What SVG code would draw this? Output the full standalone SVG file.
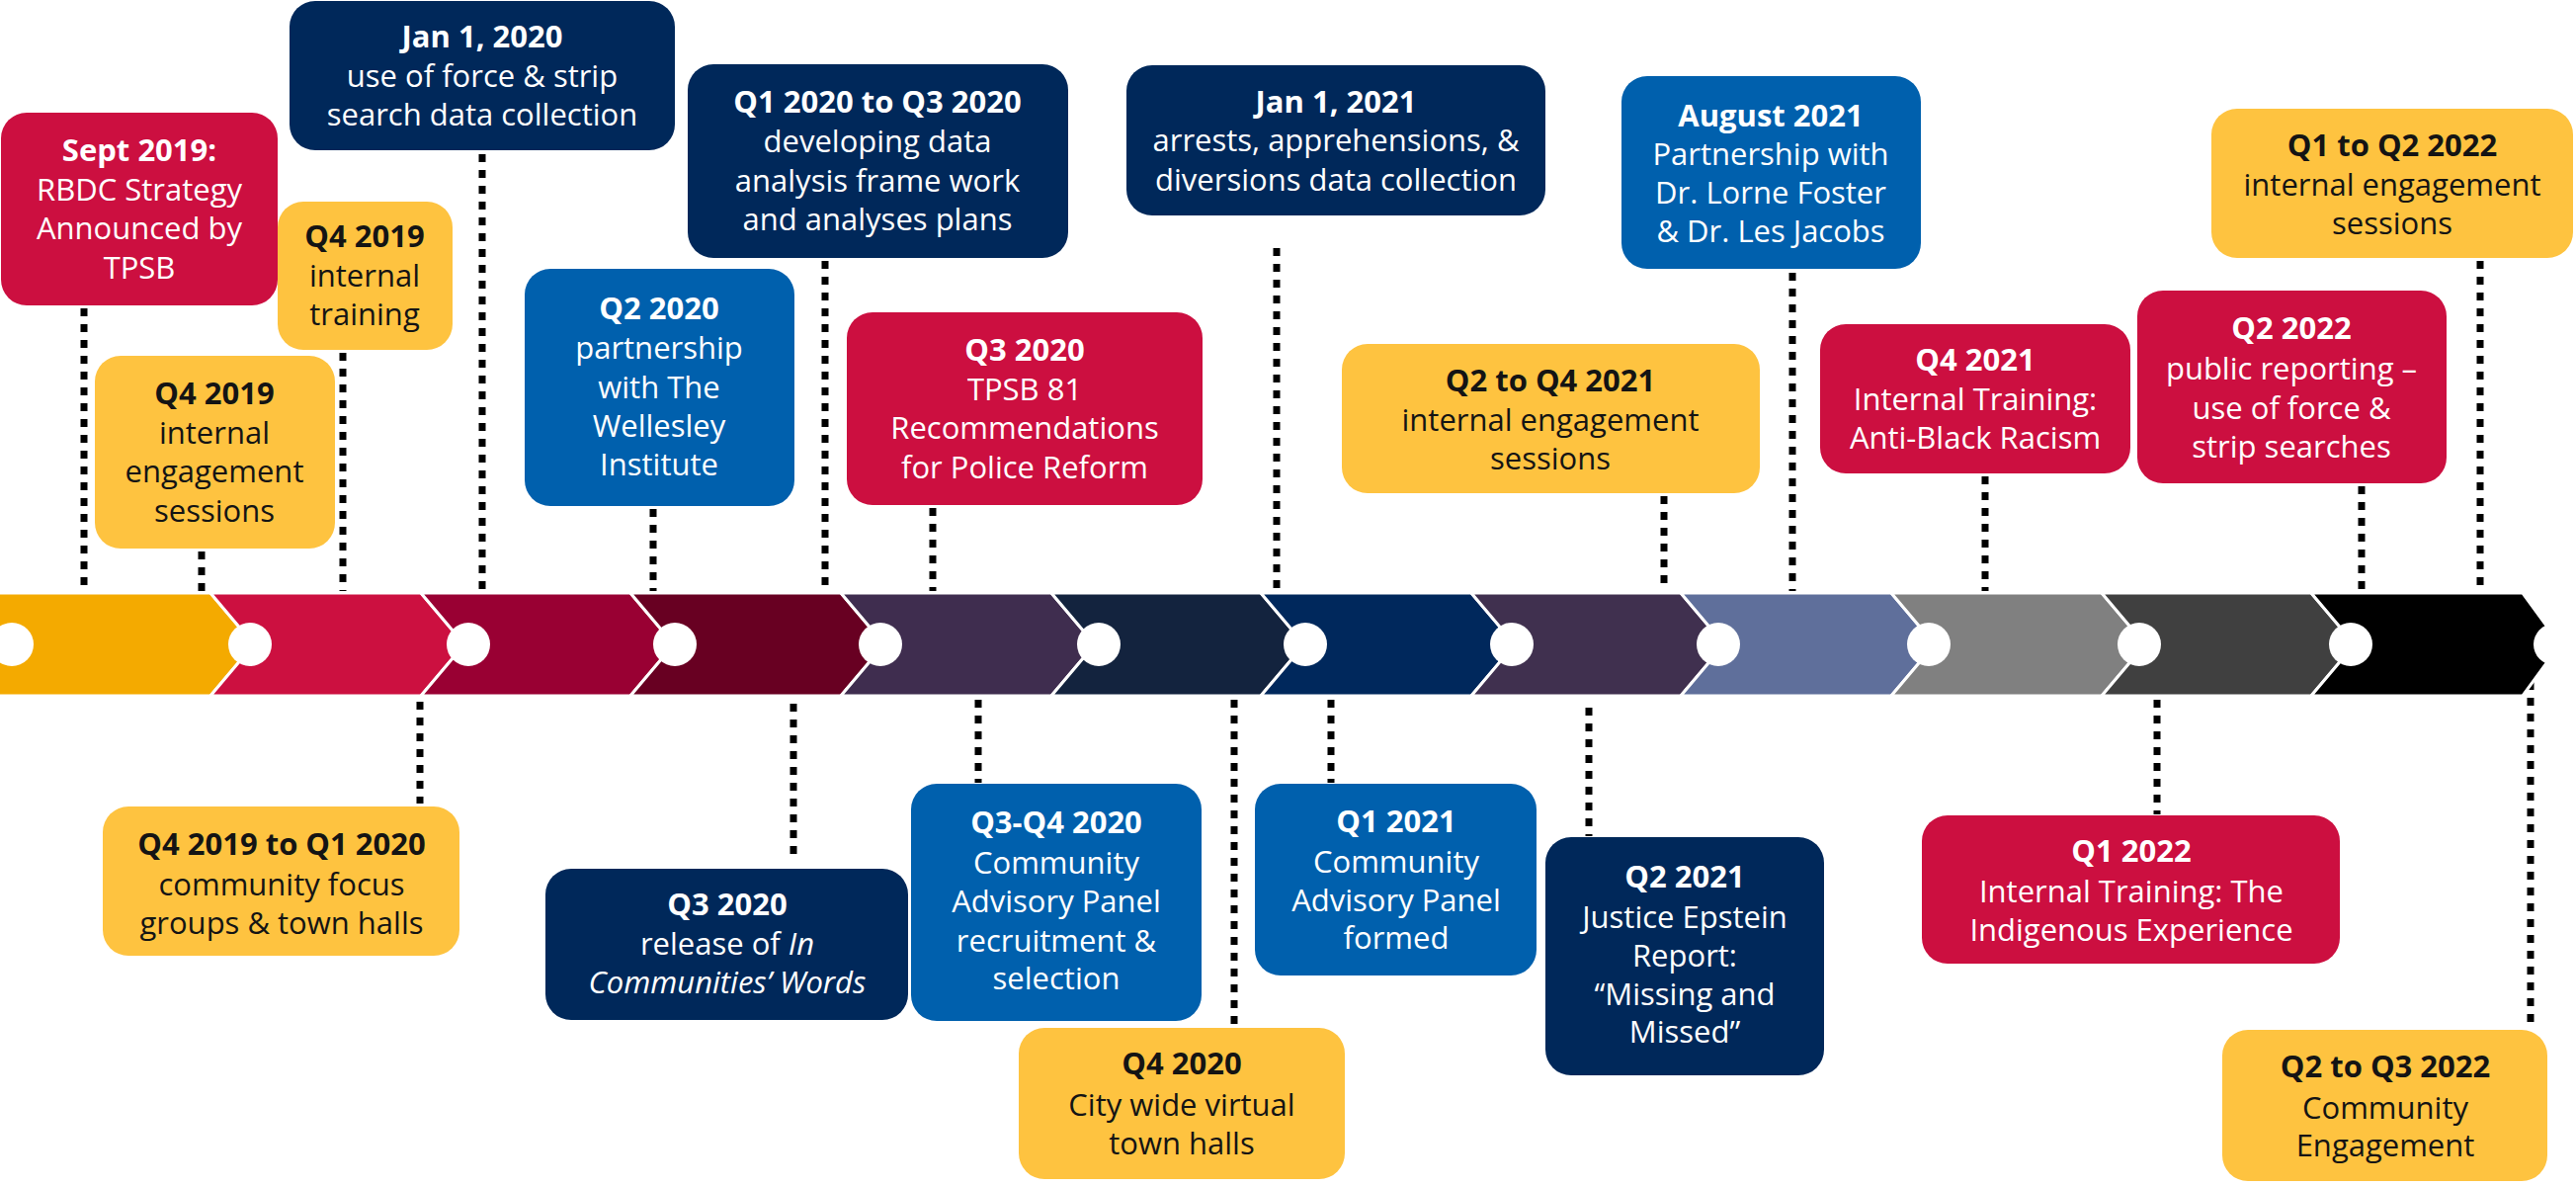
<svg xmlns="http://www.w3.org/2000/svg" width="2607" height="1201" viewBox="0 0 2607 1201">
<style>
.t{font-family:"Open Sans","Noto Sans",sans-serif;font-size:31px;text-anchor:middle}
.w{fill:#ffffff}.k{fill:#141414}.b{font-weight:700}.i{font-style:italic}
.red{fill:#CC0F40}.yel{fill:#FEC340}.nav{fill:#00285A}.blu{fill:#0060AD}
.conn line{stroke:#000;stroke-width:7;stroke-dasharray:8 8}
.seg{stroke:#fff;stroke-width:3}
.dot{fill:#fff}
</style>
<rect width="2607" height="1201" fill="#fff"/>
<g id="connectors" class="conn">
<line x1="85" y1="312" x2="85" y2="598"/>
<line x1="204" y1="558" x2="204" y2="598"/>
<line x1="347" y1="357" x2="347" y2="598"/>
<line x1="488" y1="156" x2="488" y2="598"/>
<line x1="661" y1="515" x2="661" y2="598"/>
<line x1="835" y1="264" x2="835" y2="598"/>
<line x1="944" y1="514" x2="944" y2="598"/>
<line x1="1292" y1="251" x2="1292" y2="598"/>
<line x1="1684" y1="502" x2="1684" y2="598"/>
<line x1="1814" y1="276" x2="1814" y2="598"/>
<line x1="2009" y1="482" x2="2009" y2="598"/>
<line x1="2390" y1="492" x2="2390" y2="598"/>
<line x1="2510" y1="264" x2="2510" y2="598"/>
<line x1="425" y1="710" x2="425" y2="813"/>
<line x1="803" y1="712" x2="803" y2="866"/>
<line x1="990" y1="708" x2="990" y2="792"/>
<line x1="1249" y1="708" x2="1249" y2="1038"/>
<line x1="1347" y1="708" x2="1347" y2="792"/>
<line x1="1608" y1="716" x2="1608" y2="846"/>
<line x1="2183" y1="708" x2="2183" y2="824"/>
<line x1="2561" y1="690" x2="2561" y2="1041"/>
</g>
<g id="timeline">
<polygon class="seg" fill="#F4AA00" points="-5,600 213,600 257,652 213,704 -5,704"/>
<polygon class="seg" fill="#CC1040" points="213,600 426,600 470,652 426,704 213,704 257,652"/>
<polygon class="seg" fill="#990033" points="426,600 638,600 682,652 638,704 426,704 470,652"/>
<polygon class="seg" fill="#680022" points="638,600 851,600 895,652 851,704 638,704 682,652"/>
<polygon class="seg" fill="#3F2D4F" points="851,600 1064,600 1108,652 1064,704 851,704 895,652"/>
<polygon class="seg" fill="#13233E" points="1064,600 1276,600 1320,652 1276,704 1064,704 1108,652"/>
<polygon class="seg" fill="#00285C" points="1276,600 1489,600 1533,652 1489,704 1276,704 1320,652"/>
<polygon class="seg" fill="#40304F" points="1489,600 1701,600 1745,652 1701,704 1489,704 1533,652"/>
<polygon class="seg" fill="#5F6F9B" points="1701,600 1914,600 1958,652 1914,704 1701,704 1745,652"/>
<polygon class="seg" fill="#808080" points="1914,600 2127,600 2171,652 2127,704 1914,704 1958,652"/>
<polygon class="seg" fill="#404040" points="2127,600 2339,600 2383,652 2339,704 2127,704 2171,652"/>
<polygon class="seg" fill="#000000" points="2339,600 2553,600 2591,652 2553,704 2339,704 2383,652"/>
<circle class="dot" cx="12" cy="652" r="22"/>
<circle class="dot" cx="253" cy="652" r="22"/>
<circle class="dot" cx="474" cy="652" r="22"/>
<circle class="dot" cx="683" cy="652" r="22"/>
<circle class="dot" cx="891" cy="652" r="22"/>
<circle class="dot" cx="1112" cy="652" r="22"/>
<circle class="dot" cx="1321" cy="652" r="22"/>
<circle class="dot" cx="1530" cy="652" r="22"/>
<circle class="dot" cx="1739" cy="652" r="22"/>
<circle class="dot" cx="1952" cy="652" r="22"/>
<circle class="dot" cx="2165" cy="652" r="22"/>
<circle class="dot" cx="2379" cy="652" r="22"/>
<circle class="dot" cx="2585" cy="652" r="21"/>
</g>
<g id="n-sept2019">
<rect class="red" x="1" y="114" width="280" height="195" rx="26"/>
<text class="t w"><tspan class="b" x="141" y="163">Sept 2019:</tspan><tspan x="141" y="203">RBDC Strategy</tspan><tspan x="141" y="242">Announced by</tspan><tspan x="141" y="282">TPSB</tspan></text>
</g>
<g id="n-jan2020">
<rect class="nav" x="293" y="1" width="390" height="151" rx="26"/>
<text class="t w"><tspan class="b" x="488" y="48">Jan 1, 2020</tspan><tspan x="488" y="88">use of force &amp; strip</tspan><tspan x="488" y="127">search data collection</tspan></text>
</g>
<g id="n-q4-2019-training">
<rect class="yel" x="281" y="204" width="177" height="150" rx="26"/>
<text class="t k"><tspan class="b" x="369" y="250">Q4 2019</tspan><tspan x="369" y="290">internal</tspan><tspan x="369" y="329">training</tspan></text>
</g>
<g id="n-q4-2019-engagement">
<rect class="yel" x="96" y="360" width="243" height="195" rx="26"/>
<text class="t k"><tspan class="b" x="217" y="409">Q4 2019</tspan><tspan x="217" y="449">internal</tspan><tspan x="217" y="488">engagement</tspan><tspan x="217" y="528">sessions</tspan></text>
</g>
<g id="n-q2-2020">
<rect class="blu" x="531" y="272" width="273" height="240" rx="26"/>
<text class="t w"><tspan class="b" x="667" y="323">Q2 2020</tspan><tspan x="667" y="363">partnership</tspan><tspan x="667" y="403">with The</tspan><tspan x="667" y="442">Wellesley</tspan><tspan x="667" y="481">Institute</tspan></text>
</g>
<g id="n-q1-q3-2020">
<rect class="nav" x="696" y="65" width="385" height="196" rx="26"/>
<text class="t w"><tspan class="b" x="888" y="114">Q1 2020 to Q3 2020</tspan><tspan x="888" y="154">developing data</tspan><tspan x="888" y="194">analysis frame work</tspan><tspan x="888" y="233">and analyses plans</tspan></text>
</g>
<g id="n-q3-2020-tpsb">
<rect class="red" x="857" y="316" width="360" height="195" rx="26"/>
<text class="t w"><tspan class="b" x="1037" y="365">Q3 2020</tspan><tspan x="1037" y="405">TPSB 81</tspan><tspan x="1037" y="444">Recommendations</tspan><tspan x="1037" y="484">for Police Reform</tspan></text>
</g>
<g id="n-jan2021">
<rect class="nav" x="1140" y="66" width="424" height="152" rx="26"/>
<text class="t w"><tspan class="b" x="1352" y="114">Jan 1, 2021</tspan><tspan x="1352" y="153">arrests, apprehensions, &amp;</tspan><tspan x="1352" y="193">diversions data collection</tspan></text>
</g>
<g id="n-q2-q4-2021">
<rect class="yel" x="1358" y="348" width="423" height="151" rx="26"/>
<text class="t k"><tspan class="b" x="1569" y="396">Q2 to Q4 2021</tspan><tspan x="1569" y="436">internal engagement</tspan><tspan x="1569" y="475">sessions</tspan></text>
</g>
<g id="n-aug2021">
<rect class="blu" x="1641" y="77" width="303" height="195" rx="26"/>
<text class="t w"><tspan class="b" x="1792" y="128">August 2021</tspan><tspan x="1792" y="167">Partnership with</tspan><tspan x="1792" y="206">Dr. Lorne Foster</tspan><tspan x="1792" y="245">&amp; Dr. Les Jacobs</tspan></text>
</g>
<g id="n-q1-q2-2022">
<rect class="yel" x="2238" y="110" width="366" height="151" rx="26"/>
<text class="t k"><tspan class="b" x="2421" y="158">Q1 to Q2 2022</tspan><tspan x="2421" y="198">internal engagement</tspan><tspan x="2421" y="237">sessions</tspan></text>
</g>
<g id="n-q4-2021">
<rect class="red" x="1842" y="328" width="314" height="151" rx="26"/>
<text class="t w"><tspan class="b" x="1999" y="375">Q4 2021</tspan><tspan x="1999" y="415">Internal Training:</tspan><tspan x="1999" y="454">Anti-Black Racism</tspan></text>
</g>
<g id="n-q2-2022">
<rect class="red" x="2163" y="294" width="313" height="195" rx="26"/>
<text class="t w"><tspan class="b" x="2319" y="343">Q2 2022</tspan><tspan x="2319" y="384">public reporting –</tspan><tspan x="2319" y="424">use of force &amp;</tspan><tspan x="2319" y="463">strip searches</tspan></text>
</g>
<g id="n-q4-2019-q1-2020">
<rect class="yel" x="104" y="816" width="361" height="151" rx="26"/>
<text class="t k"><tspan class="b" x="285" y="865">Q4 2019 to Q1 2020</tspan><tspan x="285" y="906">community focus</tspan><tspan x="285" y="945">groups &amp; town halls</tspan></text>
</g>
<g id="n-q3-2020-release">
<rect class="nav" x="552" y="879" width="367" height="153" rx="26"/>
<text class="t w"><tspan class="b" x="736" y="926">Q3 2020</tspan><tspan x="736" y="966">release of <tspan class="i">In</tspan></tspan><tspan class="i" x="736" y="1005">Communities’ Words</tspan></text>
</g>
<g id="n-q3-q4-2020">
<rect class="blu" x="922" y="793" width="294" height="240" rx="26"/>
<text class="t w"><tspan class="b" x="1069" y="843">Q3-Q4 2020</tspan><tspan x="1069" y="884">Community</tspan><tspan x="1069" y="923">Advisory Panel</tspan><tspan x="1069" y="963">recruitment &amp;</tspan><tspan x="1069" y="1001">selection</tspan></text>
</g>
<g id="n-q4-2020">
<rect class="yel" x="1031" y="1040" width="330" height="153" rx="26"/>
<text class="t k"><tspan class="b" x="1196" y="1087">Q4 2020</tspan><tspan x="1196" y="1129">City wide virtual</tspan><tspan x="1196" y="1168">town halls</tspan></text>
</g>
<g id="n-q1-2021">
<rect class="blu" x="1270" y="793" width="285" height="194" rx="26"/>
<text class="t w"><tspan class="b" x="1413" y="842">Q1 2021</tspan><tspan x="1413" y="883">Community</tspan><tspan x="1413" y="922">Advisory Panel</tspan><tspan x="1413" y="960">formed</tspan></text>
</g>
<g id="n-q2-2021">
<rect class="nav" x="1564" y="847" width="282" height="241" rx="26"/>
<text class="t w"><tspan class="b" x="1705" y="898">Q2 2021</tspan><tspan x="1705" y="939">Justice Epstein</tspan><tspan x="1705" y="978">Report:</tspan><tspan x="1705" y="1017">“Missing and</tspan><tspan x="1705" y="1055">Missed”</tspan></text>
</g>
<g id="n-q1-2022">
<rect class="red" x="1945" y="825" width="423" height="150" rx="26"/>
<text class="t w"><tspan class="b" x="2157" y="872">Q1 2022</tspan><tspan x="2157" y="913">Internal Training: The</tspan><tspan x="2157" y="952">Indigenous Experience</tspan></text>
</g>
<g id="n-q2-q3-2022">
<rect class="yel" x="2249" y="1042" width="329" height="153" rx="26"/>
<text class="t k"><tspan class="b" x="2414" y="1090">Q2 to Q3 2022</tspan><tspan x="2414" y="1132">Community</tspan><tspan x="2414" y="1170">Engagement</tspan></text>
</g>
</svg>
